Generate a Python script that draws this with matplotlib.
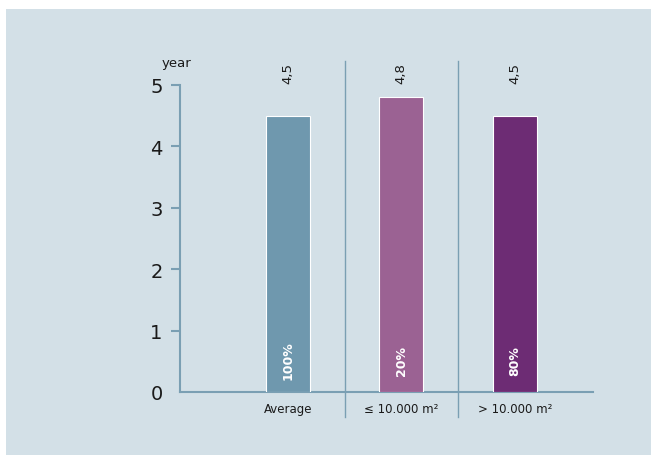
import matplotlib.pyplot as plt
from matplotlib.patches import Rectangle

plt.rcParams['font.family'] = ['DejaVu Sans']

categories = ['Average', '≤ 10.000 m²', '> 10.000 m²']
years      = [4.5, 4.8, 4.5]
value_text = ['4,5', '4,8', '4,5']
shares     = ['100%', '20%', '80%']
colours    = ['#6f98ae', '#9b6293', '#6d2c74']

bg    = '#d3e0e7'
axcol = '#7a9fb3'

fig = plt.figure(figsize=(6.51, 4.56), dpi=100)
fig.patch.set_facecolor('white')
fig.patches.append(Rectangle((6 / 651, 0), 1, 1 - 10 / 456, transform=fig.transFigure,
                             facecolor=bg, edgecolor='none', zorder=-10))

ax = fig.add_axes([180 / 651, 1 - 393 / 456, 413 / 651, 307 / 456])
ax.set_facecolor('none')

x = list(range(len(categories)))
ax.bar(x, years, width=0.39, color=colours, edgecolor='white', linewidth=0.8, zorder=3)

ax.set_xlim(-0.95, 2.69)
ax.set_ylim(0, 5)

for s in ['top', 'right']:
    ax.spines[s].set_visible(False)
for s in ['left', 'bottom']:
    ax.spines[s].set_color(axcol)
    ax.spines[s].set_linewidth(1.5)

ax.set_yticks(range(6))
ax.tick_params(axis='y', length=6.5, width=1.5, color=axcol, labelsize=14, pad=6, labelcolor='#1a1a1a')
ax.yaxis.get_major_ticks()[0].tick1line.set_visible(False)
ax.set_xticks(x)
ax.set_xticklabels(categories)
ax.tick_params(axis='x', length=0, labelsize=8.5, pad=7, labelcolor='#1a1a1a')

# group separators
for sx in [0.5, 1.5]:
    ax.plot([sx, sx], [-0.41, 5.39], color=axcol, linewidth=1, clip_on=False, zorder=2)

for xi, vt, sh in zip(x, value_text, shares):
    ax.text(xi, 5.2, vt, rotation=90, ha='center', va='center', fontsize=9.5, color='#1a1a1a')
    ax.text(xi, 0.52, sh, rotation=90, ha='center', va='center', fontsize=9,
            fontweight='bold', color='white', zorder=4)

ax.text(-0.98, 5.37, 'year', ha='center', va='center', fontsize=9.5, color='#1a1a1a')

fig.savefig('out.png', dpi=100)
